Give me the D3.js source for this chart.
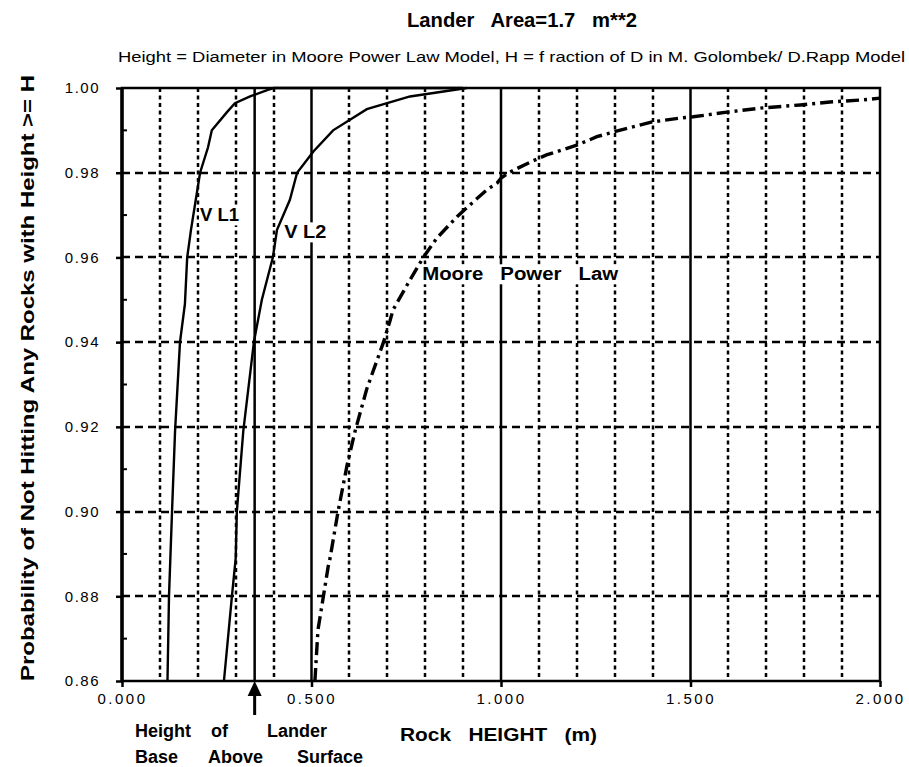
<!DOCTYPE html>
<html>
<head>
<meta charset="utf-8">
<script src="https://cdn.jsdelivr.net/npm/d3@7"></script>
<style>
    body { margin: 0; background: #fff; }
    svg { display: block; font-family: "Liberation Sans", Arial, Helvetica, sans-serif; }
    .axis text { font-size: 15px; fill: #000; }
    .axis line { stroke: #000; stroke-width: 2.5; }
</style>
</head>
<body>
<div id="chart"></div>
<script>
// Axis ticks
var xTicks = [0, 0.5, 1.0, 1.5, 2.0];
var xMinorGrid = [0.1, 0.2, 0.3, 0.4, 0.6, 0.7, 0.8, 0.9, 1.1, 1.2, 1.3, 1.4, 1.6, 1.7, 1.8, 1.9];
var yTicks = [0.86, 0.88, 0.90, 0.92, 0.94, 0.96, 0.98, 1.00];
var yMinorTicks = [0.87, 0.89, 0.91, 0.93, 0.95, 0.97, 0.99];
var yGrid = [0.88, 0.90, 0.92, 0.94, 0.96, 0.98];
var landerBase = 0.35;

// VL1 (Golombek / Rapp)
var vl1Height = [0.120, 0.124, 0.132, 0.140, 0.153, 0.166, 0.172, 0.182, 0.206, 0.227, 0.237, 0.277, 0.298, 0.338, 0.383, 0.400, 0.900];
var vl1Prob   = [0.860, 0.880, 0.900, 0.919, 0.940, 0.949, 0.960, 0.9665, 0.980, 0.986, 0.990, 0.9943, 0.9964, 0.998, 0.9995, 1.000, 1.000];

// VL2 (Golombek / Rapp)
var vl2Height = [0.269, 0.290, 0.300, 0.303, 0.320, 0.348, 0.369, 0.398, 0.409, 0.443, 0.462, 0.505, 0.557, 0.646, 0.760, 0.910];
var vl2Prob   = [0.860, 0.880, 0.889, 0.900, 0.919, 0.940, 0.950, 0.960, 0.9665, 0.9736, 0.980, 0.985, 0.990, 0.995, 0.998, 1.000];

// Moore power law
var mooreHeight = [0.509, 0.517, 0.544, 0.549, 0.570, 0.594, 0.615, 0.646, 0.690, 0.707, 0.715, 0.760, 0.795, 0.831, 0.884, 0.918, 0.963, 0.990, 1.000, 1.020, 1.077, 1.120, 1.200, 1.253, 1.296, 1.348, 1.400, 1.472, 1.507, 1.596, 1.690, 1.790, 1.868, 1.955, 2.000];
var mooreProb   = [0.860, 0.872, 0.887, 0.889, 0.900, 0.911, 0.919, 0.929, 0.940, 0.945, 0.9476, 0.9547, 0.960, 0.9646, 0.9696, 0.9724, 0.976, 0.9776, 0.9787, 0.980, 0.9825, 0.9842, 0.9865, 0.9885, 0.9896, 0.9908, 0.992, 0.9929, 0.9932, 0.9943, 0.9953, 0.996, 0.9967, 0.9972, 0.9976];

var width = 909,
    height = 767;
var margin = {top: 88, right: 29, bottom: 86, left: 122};
var innerW = width - margin.left - margin.right,
    innerH = height - margin.top - margin.bottom;

var x = d3.scaleLinear().domain([0, 2]).range([0, innerW]);
var y = d3.scaleLinear().domain([0.86, 1.0]).range([innerH, 0]);

var svg = d3.select('#chart').append('svg')
    .attr('width', width)
    .attr('height', height);

var g = svg.append('g').attr('transform', 'translate(' + margin.left + ',' + margin.top + ')');

// Minor vertical grid (short dashes)
g.selectAll('.vgrid').data(xMinorGrid).enter().append('line')
    .attr('class', 'vgrid')
    .attr('x1', function(d) { return Math.round(x(d)); })
    .attr('x2', function(d) { return Math.round(x(d)); })
    .attr('y1', 0).attr('y2', innerH)
    .attr('stroke', '#000').attr('stroke-width', 2.5)
    .attr('stroke-dasharray', '4,3.5');

// Horizontal grid (longer dashes)
g.selectAll('.hgrid').data(yGrid).enter().append('line')
    .attr('class', 'hgrid')
    .attr('x1', 0).attr('x2', innerW)
    .attr('y1', function(d) { return Math.round(y(d)); })
    .attr('y2', function(d) { return Math.round(y(d)); })
    .attr('stroke', '#000').attr('stroke-width', 2.5)
    .attr('stroke-dasharray', '8,5');

// Solid major verticals + lander base height
g.selectAll('.vmajor').data([landerBase, 0.5, 1.0, 1.5]).enter().append('line')
    .attr('class', 'vmajor')
    .attr('x1', function(d) { return x(d); })
    .attr('x2', function(d) { return x(d); })
    .attr('y1', 0).attr('y2', innerH)
    .attr('stroke', '#000').attr('stroke-width', 2.5);

// Curves
var line = d3.line()
    .x(function(d) { return x(d[0]); })
    .y(function(d) { return y(d[1]); });

g.append('path')
    .datum(d3.zip(vl1Height, vl1Prob))
    .attr('d', line)
    .attr('fill', 'none').attr('stroke', '#000').attr('stroke-width', 2.4);

g.append('path')
    .datum(d3.zip(vl2Height, vl2Prob))
    .attr('d', line)
    .attr('fill', 'none').attr('stroke', '#000').attr('stroke-width', 2.4);

g.append('path')
    .datum(d3.zip(mooreHeight, mooreProb))
    .attr('d', line)
    .attr('fill', 'none').attr('stroke', '#000').attr('stroke-width', 3.4)
    .attr('stroke-dasharray', '13,5,3,5');

// Curve labels with white backing
function label(txt, px, py, len) {
    var grp = g.append('g');
    var t = grp.append('text')
        .attr('x', x(px)).attr('y', y(py))
        .style('font-size', '18px').style('font-weight', 'bold')
        .style('white-space', 'pre')
        .attr('textLength', len).attr('lengthAdjust', 'spacingAndGlyphs')
        .text(txt);
    var bb = t.node().getBBox();
    grp.insert('rect', 'text')
        .attr('x', bb.x - 1).attr('y', bb.y)
        .attr('width', bb.width + 2).attr('height', bb.height)
        .attr('fill', '#fff');
}
label('V L1', 0.206, 0.9685, 39);
label('V L2', 0.428, 0.9645, 42);
label('Moore   Power   Law', 0.792, 0.9546, 196);

// Frame
g.append('rect')
    .attr('x', 0).attr('y', 0)
    .attr('width', innerW).attr('height', innerH)
    .attr('fill', 'none').attr('stroke', '#000').attr('stroke-width', 2.5);
g.append('line')
    .attr('x1', 0).attr('x2', 0).attr('y1', 0).attr('y2', innerH)
    .attr('stroke', '#000').attr('stroke-width', 3.5);

// Y-Axis
var yAxis = d3.axisLeft(y).tickValues(yTicks).tickFormat(d3.format('.2f'))
    .tickSize(6).tickPadding(16);
g.append('g').attr('class', 'axis').call(yAxis)
    .call(function(a) { a.select('.domain').remove(); })
    .selectAll('text').style('letter-spacing', '1.5px');

// Y minor ticks (inside)
g.selectAll('.yminor').data(yMinorTicks).enter().append('line')
    .attr('x1', 0).attr('x2', 5)
    .attr('y1', function(d) { return y(d); })
    .attr('y2', function(d) { return y(d); })
    .attr('stroke', '#000').attr('stroke-width', 2);

// X-Axis
var xAxis = d3.axisBottom(x).tickValues(xTicks).tickFormat(d3.format('.3f'))
    .tickSize(6).tickPadding(6);
g.append('g').attr('class', 'axis')
    .attr('transform', 'translate(0,' + innerH + ')')
    .call(xAxis)
    .call(function(a) { a.select('.domain').remove(); })
    .selectAll('text').style('letter-spacing', '2.5px');

// Titles
svg.append('text')
    .attr('x', 407).attr('y', 27)
    .style('font-size', '20px').style('font-weight', 'bold')
    .style('white-space', 'pre')
    .attr('textLength', 230).attr('lengthAdjust', 'spacingAndGlyphs')
    .text('Lander   Area=1.7   m**2');

svg.append('text')
    .attr('x', 118).attr('y', 62)
    .style('font-size', '14px')
    .attr('textLength', 787).attr('lengthAdjust', 'spacingAndGlyphs')
    .text('Height = Diameter in Moore Power Law Model, H = f raction of D in M. Golombek/ D.Rapp Model');

svg.append('text')
    .attr('transform', 'translate(34,' + 378 + ') rotate(-90)')
    .attr('text-anchor', 'middle')
    .style('font-size', '19px').style('font-weight', 'bold')
    .attr('textLength', 606).attr('lengthAdjust', 'spacingAndGlyphs')
    .text('Probability of Not Hitting Any Rocks with Height >= H');

svg.append('text')
    .attr('x', 400).attr('y', 741)
    .style('font-size', '18px').style('font-weight', 'bold')
    .style('white-space', 'pre')
    .attr('textLength', 197).attr('lengthAdjust', 'spacingAndGlyphs')
    .text('Rock   HEIGHT   (m)');

// Lander base annotation
var note1 = svg.append('text').attr('y', 737)
    .style('font-size', '18px').style('font-weight', 'bold');
note1.append('tspan').attr('x', 135).text('Height');
note1.append('tspan').attr('x', 211).text('of');
note1.append('tspan').attr('x', 267).text('Lander');

var note2 = svg.append('text').attr('y', 763)
    .style('font-size', '18px').style('font-weight', 'bold');
note2.append('tspan').attr('x', 135).text('Base');
note2.append('tspan').attr('x', 208).text('Above');
note2.append('tspan').attr('x', 297).text('Surface');

var ax = margin.left + x(landerBase);
svg.append('line')
    .attr('x1', ax).attr('x2', ax)
    .attr('y1', 715).attr('y2', 692)
    .attr('stroke', '#000').attr('stroke-width', 3);
svg.append('path')
    .attr('d', 'M' + ax + ',' + 681 + 'L' + (ax - 7) + ',' + 696 + 'L' + (ax + 7) + ',' + 696 + 'Z')
    .attr('fill', '#000');
</script>
</body>
</html>
